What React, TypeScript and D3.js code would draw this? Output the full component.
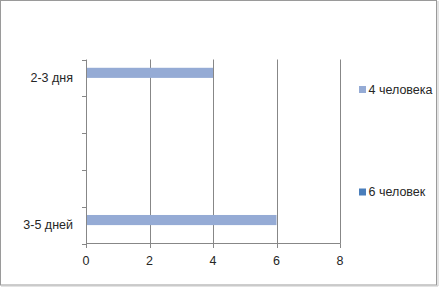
import React from "react";
import * as d3 from "d3";

const categories = ["2-3 дня", "", "", "", "3-5 дней"];
const seriesNames = ["4 человека", "6 человек"];
const series1 = [4, 0, 0, 0, 6];
const series2 = [0, 0, 0, 0, 0];
const xTicks = [0, 2, 4, 6, 8];
const colors = ["#95ABD5", "#4A7EBB"];

const W = 439;
const H = 287;

export default function App() {
  const x = d3.scaleLinear().domain([0, 8]).range([86, 340]);
  const idx = categories.map((_, i) => i);
  const y = d3.scaleBand<number>().domain(idx).range([59.5, 243.5]);
  const bw = y.bandwidth();
  const barH = bw * 0.275;
  const gap = (bw - 2 * barH) / 2;
  const allSeries = [series1, series2];
  const axisColor = "#878787";
  const font = "'Liberation Sans', Arial, sans-serif";
  const textColor = "#262626";
  const fs = 12.5;

  return (
    <svg
      width={W}
      height={H}
      style={{ position: "absolute", left: 0, top: 0, background: "#fff" }}
    >
      <rect x={0.5} y={0.5} width={436} height={284.5} fill="#fff" stroke="#9a9a9a" />
      <line x1={1} y1={286} x2={438} y2={286} stroke="#c8c8c8" />
      <line x1={438} y1={1} x2={438} y2={286} stroke="#c8c8c8" />
      {xTicks.slice(1).map((t) => (
        <line key={"g" + t} x1={Math.round(x(t)) + 0.5} x2={Math.round(x(t)) + 0.5} y1={59.5} y2={243.5} stroke={axisColor} />
      ))}
      {allSeries.map((s, si) =>
        s.map((v, i) =>
          v > 0 ? (
            <rect
              key={si + "-" + i}
              x={x(0)}
              y={(y(i) as number) + gap + si * barH}
              width={x(v) - x(0)}
              height={barH}
              fill={colors[si]}
            />
          ) : null
        )
      )}
      <line x1={86.5} x2={86.5} y1={59.5} y2={243.5} stroke={axisColor} />
      {idx.concat([categories.length]).map((i) => {
        const yy = i < categories.length ? (y(i) as number) : 243.5;
        return <line key={"yt" + i} x1={82} x2={86.5} y1={Math.round(yy) + 0.5} y2={Math.round(yy) + 0.5} stroke={axisColor} />;
      })}
      {categories.map((c, i) =>
        c ? (
          <text
            key={"yl" + i}
            x={73}
            y={(y(i) as number) + bw / 2}
            dy="0.35em"
            textAnchor="end"
            fontFamily={font}
            fontSize={fs}
            fill={textColor}
          >
            {c}
          </text>
        ) : null
      )}
      <line x1={86} x2={340.5} y1={243.5} y2={243.5} stroke={axisColor} />
      {xTicks.map((t) => (
        <g key={"xt" + t}>
          <line x1={Math.round(x(t)) + 0.5} x2={Math.round(x(t)) + 0.5} y1={243.5} y2={248} stroke={axisColor} />
          <text x={x(t)} y={261} dy="0.35em" textAnchor="middle" fontFamily={font} fontSize={fs} fill={textColor}>
            {t}
          </text>
        </g>
      ))}
      {seriesNames.map((n, i) => {
        const ly = i === 0 ? 89.5 : 192;
        return (
          <g key={"lg" + i}>
            <rect x={359} y={ly - 3.5} width={7} height={7} fill={colors[i]} />
            <text x={368.5} y={ly} dy="0.35em" fontFamily={font} fontSize={fs} fill={textColor}>
              {n}
            </text>
          </g>
        );
      })}
    </svg>
  );
}
